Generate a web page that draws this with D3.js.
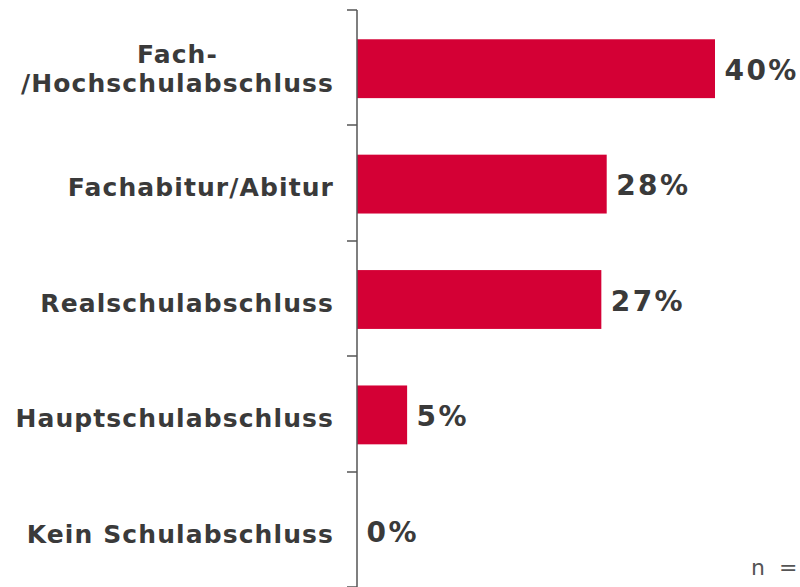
<!DOCTYPE html>
<html lang="de">
<head>
    <meta charset="UTF-8">
    <title>Schulabschluss</title>
    <script src="https://d3js.org/d3.v7.min.js"></script>
    <style>
        body {
            margin: 0;
            padding: 0;
            background: #fff;
            font-family: 'DejaVu Sans', Verdana, sans-serif;
        }
        .cat-label {
            font-size: 25px;
            font-weight: bold;
            letter-spacing: 1.1px;
            fill: #3a3a3a;
        }
        .val-label {
            font-size: 28px;
            font-weight: bold;
            letter-spacing: 2.4px;
            fill: #3a3a3a;
        }
        .note {
            font-size: 22px;
            letter-spacing: 3.5px;
            fill: #555;
        }
    </style>
</head>
<body>
    <div id="chart"></div>

    <script>
        const categories = [
            "Fach-\n/Hochschulabschluss",
            "Fachabitur/Abitur",
            "Realschulabschluss",
            "Hauptschulabschluss",
            "Kein Schulabschluss"
        ];
        const shares = [40, 27.9, 27.3, 5.6, 0];
        const shareLabels = ["40%", "28%", "27%", "5%", "0%"];

        const width = 800, height = 587;
        const axisX = 357;
        const pad = 0.49;

        const svg = d3.select("#chart")
            .append("svg")
            .attr("width", width)
            .attr("height", height);

        const data = categories.map((c, i) => ({ cat: c, value: shares[i], label: shareLabels[i] }));

        const y = d3.scaleBand()
            .domain(categories)
            .range([10, 587])
            .paddingInner(pad)
            .paddingOuter(pad / 2);

        const x = d3.scaleLinear()
            .domain([0, 40])
            .range([axisX, 715]);

        // bars
        svg.selectAll("rect.bar")
            .data(data)
            .enter().append("rect")
            .attr("class", "bar")
            .attr("x", x(0))
            .attr("y", d => y(d.cat) + 1)
            .attr("width", d => x(d.value) - x(0))
            .attr("height", y.bandwidth())
            .attr("fill", "#d40035");

        // axis line + ticks between the categories
        const half = y.step() * pad / 2;
        const tickYs = categories.map(c => y(c) - half).concat([y(categories[categories.length - 1]) + y.bandwidth() + half]);

        svg.append("line")
            .attr("x1", axisX).attr("x2", axisX)
            .attr("y1", tickYs[0]).attr("y2", height)
            .attr("stroke", "#555")
            .attr("stroke-width", 1.5);

        svg.selectAll("line.tick")
            .data(tickYs)
            .enter().append("line")
            .attr("class", "tick")
            .attr("x1", axisX - 10).attr("x2", axisX)
            .attr("y1", d => Math.round(d)).attr("y2", d => Math.round(d))
            .attr("stroke", "#555")
            .attr("stroke-width", 1.5);

        // category labels (multi line ones are centered on each other)
        const catText = svg.selectAll("text.cat-label")
            .data(data)
            .enter().append("text")
            .attr("class", "cat-label")
            .attr("text-anchor", "middle");

        catText.each(function(d) {
            const lines = d.cat.split("\n");
            const t = d3.select(this);
            lines.forEach((ln, i) => {
                t.append("tspan")
                    .attr("x", 0)
                    .attr("dy", i === 0 ? (0.35 - (lines.length - 1) * 0.71) + "em" : "1.14em")
                    .text(ln);
            });
        });

        // right align the label blocks at x = 333
        catText.each(function(d) {
            const bb = this.getBBox();
            const cy = y(d.cat) + y.bandwidth() / 2 + 4.5;
            d3.select(this).attr("transform", `translate(${334 - bb.width / 2}, ${cy})`);
        });

        // value labels
        svg.selectAll("text.val-label")
            .data(data)
            .enter().append("text")
            .attr("class", "val-label")
            .attr("x", d => x(d.value) + 9.5)
            .attr("y", d => y(d.cat) + y.bandwidth() / 2 + 2.5)
            .attr("dy", "0.35em")
            .text(d => d.label);

        svg.append("text")
            .attr("class", "note")
            .attr("x", 751)
            .attr("y", 575)
            .text("n =");
    </script>
</body>
</html>
